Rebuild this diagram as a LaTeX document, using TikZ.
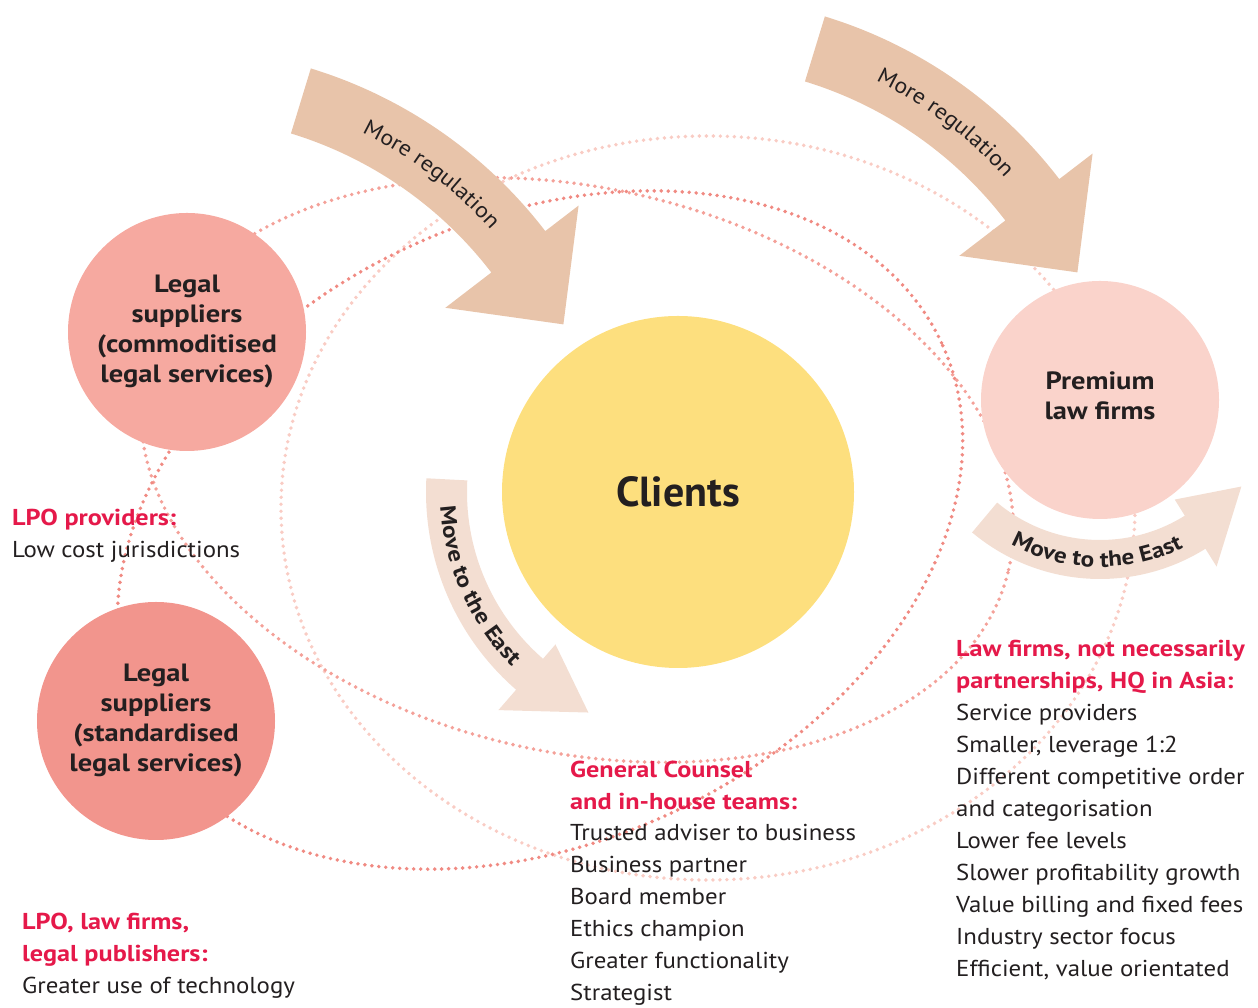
\documentclass[tikz,border=0pt]{standalone}
\usepackage{fontspec}
\setmainfont{PT Sans}[FakeStretch=1.08,BoldFeatures={FakeStretch=1.14}]
\newfontfamily\cfont{PT Sans}
\usetikzlibrary{decorations.text,calc}
\definecolor{darkdot}{HTML}{F08A82}
\definecolor{middot}{HTML}{F4A199}
\definecolor{lightdot}{HTML}{F9CCC4}
\definecolor{ltcircle}{HTML}{F6A9A0}
\definecolor{lbcircle}{HTML}{F2958D}
\definecolor{premcircle}{HTML}{FAD3CB}
\definecolor{clientcol}{HTML}{FDDF7E}
\definecolor{regcol}{HTML}{E8C4AA}
\definecolor{eastcol}{HTML}{F3DED2}
\definecolor{redtxt}{HTML}{E5194A}
\definecolor{txt}{HTML}{231F20}
\begin{document}
\begin{tikzpicture}[x=1pt,y=1pt,
  dotline/.style={line width=3.9pt, line cap=round, dash pattern=on 0pt off 7pt},
  orb/.style={circle, inner sep=0pt, minimum size=238pt, align=center, text=txt, font=\fontsize{25}{30}\selectfont\bfseries},
  orbtext/.style={inner sep=0pt, align=center, text=txt, font=\fontsize{25}{30}\selectfont\bfseries},
  headtxt/.style={anchor=base west, inner sep=0pt, text=redtxt, font=\fontsize{23}{32}\selectfont\bfseries},
  itemtxt/.style={anchor=base west, inner sep=0pt, text=txt, font=\fontsize{23}{32}\selectfont},
]
\useasboundingbox (0,0) rectangle (1258,1008);
% orbits
\draw[dotline, lightdot] (708,500) ellipse[x radius=427pt, y radius=372pt];
\draw[dotline, middot, rotate around={-13:(577,538)}] (577,538) ellipse[x radius=443pt, y radius=282pt];
\draw[dotline, darkdot, rotate around={25:(540,478)}] (540,478) ellipse[x radius=443pt, y radius=312pt];
% More regulation arrows
\foreach \cx/\cy [count=\k] in {174/492, 688/544}{
  \fill[regcol, shift={(\cx,\cy)}] (73:468) arc[start angle=73,end angle=37.5,radius=468] -- (37.5:510) -- (26.2:434) -- (37.5:342) -- (37.5:400) arc[start angle=37.5,end angle=73,radius=400] -- cycle;
  \path[shift={(\cx,\cy)}, decorate, decoration={text along path, text align=center, text color=txt, text={|\fontsize{22}{22}\selectfont|More regulation}}] (72:427) arc[start angle=72,end angle=34,radius=427];
}
% Move to the East arrows
\fill[eastcol, shift={(688,516)}] (177:262) arc[start angle=177,end angle=229,radius=262] -- (229:289) -- (245.7:242) -- (229:202) -- (229:221) arc[start angle=229,end angle=177,radius=221] -- cycle;
\path[shift={(688,516)}, decorate, decoration={text along path, text align=center, text color=txt, text={|\fontsize{22}{22}\selectfont\bfseries|Move to the East}}] (180:248) arc[start angle=180,end angle=228,radius=248];
\fill[eastcol, shift={(1100,628)}] (230:199) arc[start angle=230,end angle=302,radius=199] -- (302:220) -- (323:177) -- (302:141) -- (302:160) arc[start angle=302,end angle=230,radius=160] -- cycle;
\path[shift={(1100,628)}, decorate, decoration={text along path, text align=center, text color=txt, text={|\fontsize{22}{22}\selectfont\bfseries|Move to the East}}] (236:187) arc[start angle=236,end angle=302,radius=187];
% circles
\node[orb, fill=ltcircle] (lt) at (187,676) {Legal\\suppliers\\(commoditised\\legal services)};
\node[orb, fill=lbcircle] (lb) at (156,287) {Legal\\suppliers\\(standardised\\legal services)};
\node[orb, fill=premcircle] (pm) at (1100,608) {};
\node[orbtext] (pmt) at (1100,612) {Premium\\law firms};
\node[circle, fill=clientcol, minimum size=352pt, inner sep=0pt, font=\cfont\fontsize{42}{42}\selectfont\bfseries, text=txt] (cl) at (678,516) {Clients};
% LPO providers
\node[headtxt] (lpoh) at (12,482) {LPO providers:};
\node[itemtxt] (lpoi) at (12,450) {Low cost jurisdictions};
% LPO, law firms
\node[headtxt] (lawh1) at (22,78) {LPO, law firms,};
\node[headtxt] (lawh2) at (22,46) {legal publishers:};
\node[itemtxt] (lawi) at (22,14) {Greater use of technology};
% General counsel
\node[headtxt] (gch1) at (570,230) {General Counsel};
\node[headtxt] (gch2) at (570,198) {and in-house teams:};
\foreach \t [count=\i] in {Trusted adviser to business, Business partner, Board member, Ethics champion, Greater functionality, Strategist}
  \node[itemtxt] (gc\i) at (570,199-32*\i) {\t};
% Asia law firms
\node[headtxt] (ash1) at (956,351) {Law firms, not necessarily};
\node[headtxt] (ash2) at (956,319) {partnerships, HQ in Asia:};
\foreach \t [count=\i] in {Service providers, {Smaller, leverage 1:2}, Different competitive order, and categorisation, Lower fee levels, Slower profitability growth, Value billing and fixed fees, Industry sector focus, {Efficient, value orientated}}
  \node[itemtxt] (as\i) at (956,319-32*\i) {\t};
\end{tikzpicture}
\end{document}
